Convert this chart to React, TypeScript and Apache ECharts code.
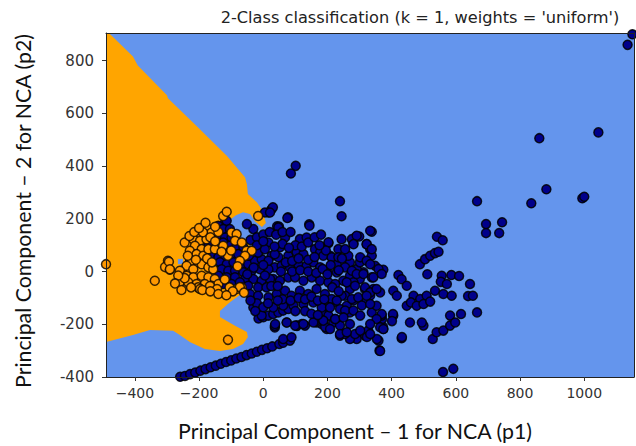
import React, { useEffect, useRef } from "react";
import * as echarts from "echarts";

const xTicks = [-400, -200, 0, 200, 400, 600, 800, 1000];
const yTicks = [-400, -200, 0, 200, 400, 600, 800];

const titleText = "2-Class classification (k = 1, weights = 'uniform')";
const xTitle = "Principal Component \u2013 1 for NCA (p1)";
const yTitle = "Principal Component \u2013 2 for NCA (p2)";

// decision region of class 1 (orange), in data coordinates
const orangeRegion: number[][] = [
  [-490, 905], [-481, 905], [-406, 816], [-391, 782], [-300, 669], [-297, 657], [-207, 551],
  [-113, 438], [-57, 358], [-51, 331], [-48, 294], [-20, 263], [-1, 229], [8, 184], [-4, 169],
  [-26, 191], [-41, 218], [-63, 225], [-85, 214], [-110, 191], [-135, 161], [-129, 138],
  [-88, 131], [-48, 123], [-35, 66], [-41, -9], [-51, -74], [-73, -89], [-104, -116],
  [-135, -150], [-135, -172], [-88, -206], [-51, -229], [-48, -248], [-63, -275], [-94, -294],
  [-135, -301], [-182, -294], [-229, -267], [-260, -241], [-281, -225], [-353, -222],
  [-406, -241], [-490, -267],
];

const bluePatch: number[][] = [
  [-266, 48], [-250, 48], [-250, 28], [-266, 28],
];

// class 0 samples (navy)
const class0Points: number[][] = [
  [1135, 860], [1150, 900], [860, 506], [1044, 528], [882, 312], [835, 259], [994, 278], [1000, 284],
  [694, 180], [744, 187], [694, 146], [735, 146], [666, 267], [666, -155], [560, -381], [592, -369],
  [101, 401], [86, 372], [239, 267], [244, 210], [26, 237], [16, 224], [30, 244], [77, 206], [43, 172],
  [75, 203], [49, 171], [143, 179], [-31, 161], [-51, 180], [-119, 187], [338, 151], [289, 132],
  [299, 133], [281, 107], [322, 104], [333, 85], [203, 108], [541, 132], [559, 119],
  [488, 28], [504, 47], [520, 60], [535, 70], [546, 75], [374, 7], [421, -13], [431, -29], [447, -54],
  [511, -10], [556, -16], [553, -39], [572, -47], [586, -13], [610, -17], [644, -47], [582, -167],
  [616, -161], [638, -93], [653, -92], [405, -73], [416, -92], [447, -130], [468, -92], [489, -104],
  [509, -92], [535, -73], [561, -85], [587, -92], [460, -117], [478, -130], [499, -123], [520, -114],
  [405, -167], [374, -218], [431, -253], [359, -262], [362, -300], [499, -205], [528, -256],
  [540, -230], [561, -224], [582, -205], [598, -193], [457, -193], [494, -193], [432, -248],
  [373, -210], [370, -180], [404, -161], [401, -188],
  [301, -231], [317, -243], [327, -224], [291, -256], [270, -256], [239, -243], [198, -218],
  [182, -199], [218, -193], [239, -205], [166, -193], [130, -205], [104, -205], [73, -193],
  [36, -212], [-31, -136], [338, -155], [369, -167], [322, -110], [353, -130], [333, -92],
  [317, -66], [343, -66], [364, -79], [270, -66], [255, -92], [281, -110], [260, -130], [239, -142],
  [270, -155], [218, -117], [198, -130], [182, -155], [203, -167], [224, -180], [301, -28], [312, -3],
  [291, 10], [270, -16], [281, -41], [249, -35], [229, 28], [208, 60], [234, 85], [270, 35],
  [301, 35], [338, 60], [348, 22], [338, -22], [36, -206], [105, -206], [120, -199], [161, -191],
  [187, -187], [193, -210], [208, -218], [254, -237], [286, -237], [323, -248], [354, -256], [364, -301],
  [-15, -178], [0, -173], [16, -167], [31, -161], [47, -155], [62, -148], [78, -142],
  [-259, -399], [-244, -396], [-228, -389], [-212, -383], [-196, -376], [-180, -370], [-164, -363],
  [-148, -357], [-132, -350], [-116, -343], [-100, -337], [-84, -330], [-68, -324], [-52, -317],
  [-36, -311], [-20, -304], [-4, -297], [12, -291], [28, -284], [50, -275], [62, -270], [83, -262],
  [47, 167], [68, 129], [52, 92], [114, 123], [135, 129], [144, 174], [203, 111], [244, 123],
  [276, 123], [291, 136], [333, 155], [281, 104], [322, 104], [338, 85], [26, 60], [47, 54],
  [78, 60], [104, 73], [125, 66], [161, 85], [177, 73], [187, 60], [213, 54], [234, 54], [265, 60],
  [302, 54], [322, 41], [333, 28], [359, 10], [36, 16], [57, 22], [83, 16], [109, 28], [135, 22],
  [156, 35], [177, 16], [198, 3], [229, -3], [255, 16], [276, 3], [291, -9], [312, -9], [343, -22],
  [369, -9], [31, -28], [52, -35], [78, -22], [99, -22], [125, -35], [151, -22], [177, -35],
  [203, -41], [224, -47], [260, -41], [286, -54], [317, -60], [333, -79], [353, -66], [42, -85],
  [68, -73], [88, -92], [114, -73], [140, -85], [166, -66], [192, -85], [213, -104], [244, -92],
  [276, -104], [296, -98], [322, -92], [31, -136], [62, -129], [94, -129], [125, -123], [156, -117],
  [182, -136], [208, -136], [229, -110], [255, -148], [281, -148], [307, -129], [333, -123],
  [369, -161], [353, -180], [37, -199], [73, -193], [99, -205], [125, -199], [156, -193],
  [187, -186], [224, -180], [250, -174], [270, -199], [302, -167], [333, -199], [364, -211],
  [62, -256], [88, -249], [239, -237], [260, -230], [302, -224], [333, -237], [374, -218],
  [-114, 193], [-140, 174], [-125, 161], [-104, 161], [-145, 136], [-119, 129], [-99, 129],
  [-125, 110], [-104, 98], [-83, 98], [-62, 92], [-171, 104], [-161, 60], [-140, 54], [-119, 54],
  [-99, 54], [-78, 66], [-135, 35], [-114, 28], [-93, 35], [-67, 22], [-47, 28], [-26, 41],
  [-5, 47], [-130, 9], [-109, 3], [-88, 3], [-62, -3], [-36, 3], [-10, 9], [16, 9],
  [-140, -16], [-114, -22], [-88, -22], [-57, -28], [-31, -28], [-5, -35], [21, -28], [-125, -47],
  [-99, -47], [-73, -41], [-47, -54], [-16, -60], [10, -60], [-41, -85], [-16, -92], [16, -98],
  [-5, -167], [16, 110], [16, 41], [5, 224], [21, 224], [-16, 72], [5, 85], [36, 66],
  [-113, 78], [-228, 40],
  [-40, 120], [-20, 130], [0, 140], [20, 150], [40, 140], [60, 150], [85, 150], [100, 100],
  [120, 95], [140, 110], [160, 130], [180, 140], [60, 105], [80, 90], [35, 95], [-20, 100],
  [0, 115], [-45, 60], [-30, 15], [-50, -10], [5, -15], [0, 25], [25, -55], [45, -55], [55, 0],
  [70, 35], [90, 40], [110, 50], [140, 45], [160, 55], [90, 0], [115, 5], [140, 0], [165, -5],
  [185, 10], [210, 25], [245, 50], [255, 85], [60, -105], [85, -110], [110, -100], [130, -105],
  [150, -95], [170, -110], [190, -105], [100, -150], [130, -150], [150, -160], [170, -165],
  [-20, -120], [0, -135], [15, -120], [45, -110], [-40, -110], [-25, -150], [200, -10], [215, -60],
  [235, -75], [235, 5], [195, 80], [175, 100],
];

// class 1 samples (orange)
const class1Points: number[][] = [
  [-490, 28], [-338, -35], [-297, 41], [-306, 17], [-291, 7], [-260, -40], [-254, 3], [-110, -259],
  [-16, 211], [-41, 79],
  [-125, 211], [-114, 227], [-192, 161], [-177, 167], [-203, 142], [-182, 142], [-161, 148],
  [-218, 123], [-197, 117], [-177, 123], [-213, 98], [-192, 85], [-229, 79], [-208, 66], [-187, 60],
  [-171, 85], [-151, 85], [-125, 98], [-99, 148], [-83, 142], [-88, 117], [-67, 110], [-52, 79],
  [-36, 79], [-57, 60], [-73, 41], [-223, 41], [-203, 35], [-239, 22], [-218, 9], [-192, 28],
  [-171, 16], [-156, 9], [-260, 3], [-239, -16], [-218, -22], [-192, -16], [-171, -22], [-151, -28],
  [-234, -41], [-208, -47], [-182, -47], [-161, -54], [-140, -47], [-203, -60], [-83, -66],
  [-67, -60], [-294, 37], [-291, 9], [-188, 149], [-166, -55], [-144, -66], [-73, -59], [-197, -66],
  [-245, 110], [-230, 135], [-215, 150], [-200, 165], [-180, 185], [-165, 130], [-150, 115],
  [-140, 150], [-150, 170], [-235, 60], [-210, 45], [-175, 50], [-160, 35], [-245, -25],
  [-225, -60], [-190, -70], [-165, -75], [-120, -30], [-105, -60], [-95, -75], [-60, -80],
  [-110, 60], [-100, 80], [-80, 20], [-130, 75], [-265, -15], [-275, -45], [-255, -70],
  [-140, -85], [-115, -90],
];

function polygonSeries(name: string, pts: number[][], color: string, z: number) {
  return {
    type: "custom",
    name,
    clip: true,
    silent: true,
    z,
    data: pts,
    renderItem: (params: any, api: any) => {
      if (params.dataIndex !== 0) return null;
      const points = pts.map((p) => api.coord(p));
      return { type: "polygon", shape: { points }, style: { fill: color } };
    },
  };
}

const tickFont = { fontFamily: "DejaVu Sans", fontSize: 14, color: "#333" };

export default function App() {
  const ref = useRef<HTMLDivElement>(null);
  useEffect(() => {
    const chart = echarts.init(ref.current!, null, { renderer: "svg" });
    const option: any = {
      animation: false,
      backgroundColor: "#ffffff",
      grid: {
        left: 106,
        right: 2,
        top: 33,
        bottom: 69,
        show: true,
        backgroundColor: "#6495ED",
        borderWidth: 0,
      },
      xAxis: [
        {
          type: "value",
          min: -490,
          max: 1155,
          z: 10,
          splitLine: { show: false },
          axisLine: { show: true, onZero: false, lineStyle: { color: "#222", width: 1 } },
          axisTick: { show: true, length: 4, customValues: xTicks, lineStyle: { color: "#333" } },
          axisLabel: {
            ...tickFont,
            margin: 9,
            customValues: xTicks,
            formatter: (v: number) => String(v).replace("-", "\u2212"),
          },
        },
        {
          type: "value",
          position: "top",
          min: -490,
          max: 1155,
          z: 10,
          splitLine: { show: false },
          axisLine: { show: true, onZero: false, lineStyle: { color: "#222", width: 1 } },
          axisTick: { show: false },
          axisLabel: { show: false },
        },
      ],
      yAxis: [
        {
          type: "value",
          min: -400,
          max: 905,
          z: 10,
          splitLine: { show: false },
          axisLine: { show: true, onZero: false, lineStyle: { color: "#222", width: 1 } },
          axisTick: { show: true, length: 4, customValues: yTicks, lineStyle: { color: "#333" } },
          axisLabel: { ...tickFont, fontSize: 15, margin: 12, customValues: yTicks },
        },
        {
          type: "value",
          position: "right",
          min: -400,
          max: 905,
          z: 10,
          splitLine: { show: false },
          axisLine: { show: true, onZero: false, lineStyle: { color: "#222", width: 1 } },
          axisTick: { show: false },
          axisLabel: { show: false },
        },
      ],
      series: [
        polygonSeries("class 1 region", orangeRegion, "#FFA500", 1),
        polygonSeries("class 0 patch", bluePatch, "#6495ED", 1),
        {
          type: "scatter",
          name: "class 0",
          data: class0Points,
          symbolSize: 9,
          z: 3,
          itemStyle: { color: "#00008B", borderColor: "rgba(0,0,0,0.85)", borderWidth: 1.5, opacity: 1 },
        },
        {
          type: "scatter",
          name: "class 1",
          data: class1Points,
          symbolSize: 9,
          z: 4,
          itemStyle: { color: "#FF9800", borderColor: "rgba(20,10,0,0.85)", borderWidth: 1.5, opacity: 1 },
        },
      ],
      graphic: [
        {
          type: "text",
          x: 420,
          y: 17,
          style: {
            text: titleText,
            fontFamily: "DejaVu Sans",
            fontSize: 16.2,
            fill: "#222",
            align: "center",
            verticalAlign: "middle",
            textAlign: "center",
            textVerticalAlign: "middle",
          },
        },
        {
          type: "text",
          x: 355,
          y: 431,
          style: {
            text: xTitle,
            fontFamily: "Lato",
            fontSize: 21.3,
            fill: "#111",
            align: "center",
            verticalAlign: "middle",
            textAlign: "center",
            textVerticalAlign: "middle",
          },
        },
        {
          type: "text",
          x: 23,
          y: 211,
          rotation: Math.PI / 2,
          style: {
            text: yTitle,
            fontFamily: "Lato",
            fontSize: 21.3,
            fill: "#111",
            align: "center",
            verticalAlign: "middle",
            textAlign: "center",
            textVerticalAlign: "middle",
          },
        },
      ],
    };
    chart.setOption(option);
    return () => chart.dispose();
  }, []);
  return (
    <div
      ref={ref}
      style={{ position: "fixed", left: 0, top: 0, width: 636, height: 446, background: "#fff" }}
    />
  );
}
